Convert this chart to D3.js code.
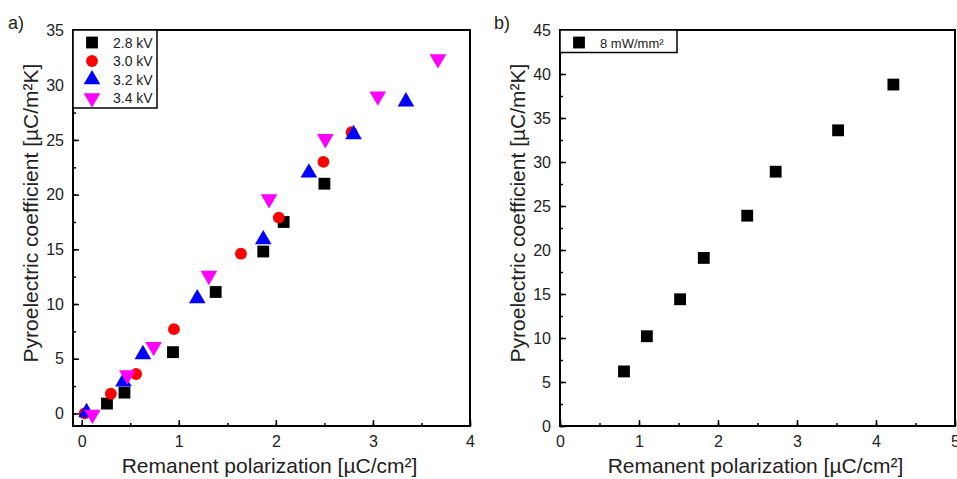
<!DOCTYPE html>
<html>
<head>
<meta charset="utf-8">
<script src="https://cdn.jsdelivr.net/npm/d3@7"></script>
<style>
  body { margin: 0; background: #fff; }
  svg { font-family: "Liberation Sans", Arial, sans-serif; }
  text { fill: #222; }
</style>
</head>
<body>
<svg id="chart" width="957" height="479"></svg>
<script>
// panel a) data, one array per series
const p28x = [0.26, 0.44, 0.94, 1.38, 1.87, 2.08, 2.50]
const p28y = [0.9, 1.9, 5.6, 11.1, 14.8, 17.5, 21.0]
const p30x = [0.03, 0.30, 0.56, 0.95, 1.64, 2.03, 2.49, 2.78]
const p30y = [0.0, 1.8, 3.6, 7.7, 14.6, 17.9, 23.0, 25.7]
const p32x = [0.05, 0.43, 0.63, 1.19, 1.87, 2.34, 2.80, 3.34]
const p32y = [0.1, 2.9, 5.4, 10.5, 15.9, 22.0, 25.5, 28.5]
const p34x = [0.11, 0.47, 0.74, 1.31, 1.93, 2.51, 3.05, 3.67]
const p34y = [-0.1, 3.5, 6.1, 12.6, 19.6, 25.1, 29.0, 32.4]
const seriesA = ['2.8 kV', '3.0 kV', '3.2 kV', '3.4 kV']

// panel b) data
const bx = [0.81, 1.10, 1.52, 1.82, 2.37, 2.73, 3.52, 4.22]
const by = [6.2, 10.2, 14.4, 19.1, 23.9, 28.9, 33.6, 38.8]
const seriesB = ['8 mW/mm²']

const xTicksA = [0, 1, 2, 3, 4]
const yTicksA = [0, 5, 10, 15, 20, 25, 30, 35]
const xTicksB = [0, 1, 2, 3, 4, 5]
const yTicksB = [0, 5, 10, 15, 20, 25, 30, 35, 40, 45]

const xTitle = 'Remanent polarization [µC/cm²]'
const yTitle = 'Pyroelectric coefficient [µC/m²K]'

const svg = d3.select('#chart')

const symSize = {square: 140, circle: 110, triangle: 120}
function marker(kind) {
    if (kind === 'circle') return d3.symbol().type(d3.symbolCircle).size(symSize.circle)()
    if (kind === 'triangle' || kind === 'down') return d3.symbol().type(d3.symbolTriangle).size(symSize.triangle)()
    return d3.symbol().type(d3.symbolSquare).size(symSize.square)()
}

function drawPanel(opt) {
    const g = svg.append('g')
    const x = d3.scaleLinear().domain(opt.xDomain).range([opt.left, opt.right])
    const y = d3.scaleLinear().domain(opt.yDomain).range([opt.bottom, opt.top])

    // minor ticks, inward
    const xMinor = d3.range(0, opt.xTicks[opt.xTicks.length - 1] + 0.01, 0.5)
    const yMinor = d3.range(0, opt.yTicks[opt.yTicks.length - 1] + 0.01, 2.5)

    g.append('g').attr('transform', 'translate(0,' + opt.bottom + ')')
        .call(d3.axisBottom(x).tickValues(xMinor).tickSize(-3).tickFormat(''))
        .call(a => a.select('.domain').remove())
        .selectAll('line').attr('stroke', '#000').attr('stroke-width', 1.5)
    g.append('g').attr('transform', 'translate(' + opt.left + ',0)')
        .call(d3.axisLeft(y).tickValues(yMinor).tickSize(-3).tickFormat(''))
        .call(a => a.select('.domain').remove())
        .selectAll('line').attr('stroke', '#000').attr('stroke-width', 1.5)

    // major ticks + labels
    const xa = g.append('g').attr('transform', 'translate(0,' + opt.bottom + ')')
        .call(d3.axisBottom(x).tickValues(opt.xTicks).tickSize(-6).tickPadding(10).tickFormat(d3.format('d')))
    xa.select('.domain').remove()
    xa.selectAll('line').attr('stroke', '#000').attr('stroke-width', 1.5)
    xa.selectAll('text').attr('font-size', 16).attr('fill', '#222')

    const ya = g.append('g').attr('transform', 'translate(' + opt.left + ',0)')
        .call(d3.axisLeft(y).tickValues(opt.yTicks).tickSize(-6).tickPadding(9).tickFormat(d3.format('d')))
    ya.select('.domain').remove()
    ya.selectAll('line').attr('stroke', '#000').attr('stroke-width', 1.5)
    ya.selectAll('text').attr('font-size', 16).attr('fill', '#222')

    // frame
    g.append('rect')
        .attr('x', opt.left).attr('y', opt.top)
        .attr('width', opt.right - opt.left).attr('height', opt.bottom - opt.top)
        .attr('fill', 'none').attr('stroke', '#000').attr('stroke-width', 2)

    // points
    opt.series.forEach(s => {
        g.selectAll(null).data(d3.zip(s.xs, s.ys)).enter().append('path')
            .attr('d', marker(s.kind))
            .attr('fill', s.color)
            .attr('transform', d => 'translate(' + x(d[0]) + ',' + y(d[1]) + ')' + (s.kind === 'down' ? ' rotate(180)' : ''))
    })

    // legend
    const lg = g.append('g')
    lg.append('rect')
        .attr('x', opt.left).attr('y', opt.top)
        .attr('width', opt.legendW).attr('height', opt.series.length * 18.5 + 4)
        .attr('fill', '#fff').attr('stroke', '#000').attr('stroke-width', 1.5)
    opt.series.forEach((s, i) => {
        const cy = opt.top + 12.5 + i * 18.5
        lg.append('path').attr('d', marker(s.kind)).attr('fill', s.color)
            .attr('transform', 'translate(' + (opt.left + 19) + ',' + cy + ')' + (s.kind === 'down' ? ' rotate(180)' : ''))
        lg.append('text').attr('x', opt.left + 40).attr('y', cy + 5)
            .attr('font-size', opt.legendFont).text(s.name)
    })

    // titles
    g.append('text')
        .attr('x', (opt.left + opt.right) / 2 - 2).attr('y', 473)
        .attr('text-anchor', 'middle').attr('font-size', 21).text(xTitle)
    g.append('text')
        .attr('transform', 'translate(' + opt.yTitleX + ',213) rotate(-90)')
        .attr('text-anchor', 'middle').attr('font-size', 21).text(yTitle)
    g.append('text')
        .attr('x', opt.labelX).attr('y', 29)
        .attr('font-size', 18).text(opt.label)
}

drawPanel({
    left: 73, right: 470, top: 30, bottom: 426,
    xDomain: [-0.09, 4.0], yDomain: [-1.15, 35.05],
    xTicks: xTicksA, yTicks: yTicksA,
    legendW: 84, legendFont: 14,
    yTitleX: 38, labelX: 8, label: 'a)',
    series: [
        {name: seriesA[0], xs: p28x, ys: p28y, color: '#000', kind: 'square'},
        {name: seriesA[1], xs: p30x, ys: p30y, color: '#f00', kind: 'circle'},
        {name: seriesA[2], xs: p32x, ys: p32y, color: '#00f', kind: 'triangle'},
        {name: seriesA[3], xs: p34x, ys: p34y, color: '#f0f', kind: 'down'}
    ]
})

drawPanel({
    left: 560, right: 955, top: 30, bottom: 426,
    xDomain: [0, 5], yDomain: [0, 45],
    xTicks: xTicksB, yTicks: yTicksB,
    legendW: 117, legendFont: 13,
    yTitleX: 525, labelX: 494, label: 'b)',
    series: [
        {name: seriesB[0], xs: bx, ys: by, color: '#000', kind: 'square'}
    ]
})
</script>
</body>
</html>
